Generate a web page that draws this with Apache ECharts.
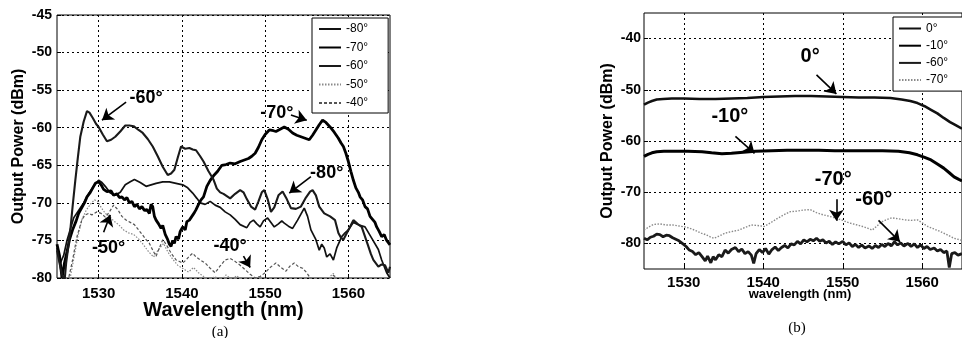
<!DOCTYPE html>
<html><head><meta charset="utf-8">
<script src="https://cdn.jsdelivr.net/npm/echarts@6/dist/echarts.min.js"></script>
<style>html,body{margin:0;padding:0;background:#fff}#c{width:962px;height:338px}</style>
</head><body><div id="c"></div>
<script>
// ---------- tick labels ----------
const xTicks = [1530, 1540, 1550, 1560];
const yTicksB = [-80, -70, -60, -50, -40];

// ---------- panel (a) ----------
const a80Wl = [1525,1525.4,1525.8,1526.2,1526.6,1527,1527.6,1528.2,1528.8,1529.4,1530,1530.4,1530.8,1531.4,1532,1532.6,1533.2,1533.8,1534.3,1535,1535.7,1536.3,1536.9,1537.7,1538.5,1539.3,1540.1,1540.7,1541.3,1541.8,1542.2,1542.8,1543.4,1544,1544.6,1545.2,1545.8,1546.4,1547,1547.8,1548.2,1548.6,1549,1549.4,1549.8,1550.3,1550.7,1551.1,1551.6,1552,1552.3,1552.8,1553.3,1553.9,1554.3,1554.7,1555.1,1555.5,1556.1,1556.5,1556.8,1557.1,1557.4,1557.8,1558.2,1558.6,1559.2,1559.6,1560,1560.6,1561.4,1562,1562.8,1563.6,1564,1564.6,1565];
const a80Db = [-76,-78,-77,-75,-73.5,-72,-71,-70,-68.8,-67.8,-67,-67.3,-67.8,-68.7,-69,-68.6,-67.6,-67.2,-66.9,-67.3,-67.8,-67.6,-67.4,-67.2,-67.2,-67.4,-67.6,-68,-68.7,-69.4,-70,-70.2,-69.8,-70.3,-70.6,-71.2,-71.6,-72.2,-72.9,-73.3,-72.6,-72.3,-72.8,-73.2,-72.4,-72,-72.6,-73.2,-72.8,-72.4,-72.7,-73.1,-73.4,-72.3,-71.5,-70.7,-71.8,-73.6,-74.9,-76.3,-75.5,-76,-77.2,-76.8,-77.6,-76,-74.5,-74,-73.6,-72.6,-73,-73.2,-74.7,-76.2,-77.6,-79.3,-80];

const a70Wl = [1525,1525.3,1525.6,1525.9,1526.2,1526.5,1526.9,1527.3,1527.6,1528,1528.3,1528.6,1529,1529.3,1529.6,1530,1530.3,1530.6,1531,1531.2,1531.5,1531.8,1532.2,1532.5,1532.8,1533.1,1533.4,1533.7,1534,1534.3,1534.6,1534.9,1535.2,1535.5,1535.8,1536.1,1536.3,1536.5,1536.7,1536.9,1537.2,1537.5,1537.7,1538,1538.3,1538.5,1538.7,1538.9,1539.1,1539.3,1539.6,1539.8,1540.1,1540.4,1540.6,1540.9,1541.2,1541.5,1541.7,1542,1542.3,1542.6,1543,1543.4,1543.8,1544.3,1544.8,1545.3,1545.8,1546.4,1547,1547.5,1548,1548.4,1548.8,1549.2,1549.6,1550,1550.5,1551,1551.3,1551.8,1552.3,1552.8,1553.3,1553.8,1554.3,1554.8,1555.3,1555.7,1556.1,1556.5,1556.9,1557.3,1557.8,1558.3,1558.8,1559.1,1559.4,1559.7,1560,1560.3,1560.6,1560.9,1561.2,1561.4,1561.7,1562,1562.3,1562.6,1562.9,1563.2,1563.4,1563.7,1564,1564.3,1564.6,1564.8,1565];
const a70Db = [-75.5,-77,-80,-78,-76.5,-74.9,-73.5,-72.4,-71.4,-70.6,-70,-69.2,-68.6,-68,-67.4,-67.2,-67.6,-68.2,-68.5,-68.7,-68.4,-69,-68.8,-69.3,-69.2,-69.6,-69.3,-70,-69.8,-70.5,-70.2,-70.8,-70.5,-71,-70.9,-71.4,-70.2,-70.5,-71.8,-72.3,-72.8,-73.4,-73,-74.2,-74.9,-75.5,-75.8,-75,-75.4,-74.5,-74.8,-73.8,-73.2,-73.6,-72.5,-72.3,-71.8,-71.3,-70.9,-70.2,-69.6,-69.2,-67.8,-67,-66.4,-65.8,-65,-64.9,-64.7,-64.8,-64.5,-64.3,-64.1,-63.8,-63.4,-62.6,-61.6,-60.9,-60.3,-60.4,-60.5,-60.2,-59.9,-60.2,-60.7,-61,-61.2,-61.4,-61.6,-61,-60.3,-59.6,-59,-59.3,-59.9,-60.6,-61.4,-62,-62.5,-63.4,-64.5,-65.8,-67,-68,-68.6,-69.2,-69.6,-70.5,-70.8,-71.8,-72.2,-72.6,-73.2,-73.8,-74.5,-74.2,-75,-74.9,-75.6];

const a60Wl = [1525,1525.3,1525.6,1525.9,1526.1,1526.4,1526.6,1526.9,1527.2,1527.5,1527.8,1528.2,1528.6,1528.9,1529.3,1529.7,1530,1530.5,1531,1531.5,1532,1532.6,1533.2,1533.7,1534.2,1534.8,1535.3,1535.9,1536.5,1537.1,1537.7,1538.3,1538.7,1539.1,1539.5,1539.9,1540.4,1540.9,1541.3,1541.7,1542.2,1542.6,1543.2,1543.8,1544.2,1544.6,1545,1545.4,1545.8,1546.4,1547,1547.4,1547.8,1548.3,1548.8,1549.2,1549.6,1549.9,1550.3,1550.7,1551.1,1551.6,1552.1,1552.6,1553.1,1553.7,1554.3,1554.9,1555.4,1555.7,1556.1,1556.5,1557.1,1557.8,1558.4,1558.8,1559.1,1559.4,1560,1560.6,1561.1,1561.6,1562,1562.4,1562.7,1563,1563.6,1564,1564.4,1564.8,1565];
const a60Db = [-76.3,-78,-79.5,-80.5,-78,-75.5,-73.6,-70.2,-67,-64,-61.2,-59.2,-57.8,-58,-58.7,-59.5,-59.9,-60.9,-61.8,-61.6,-61.2,-60.5,-59.7,-59.7,-59.8,-60.3,-60.7,-61.5,-62.5,-63.8,-65.2,-66.3,-66.1,-65.6,-64,-62.5,-62.8,-62.7,-62.9,-63,-63.8,-64.5,-65.8,-66.9,-68.1,-68.6,-68.8,-69.1,-69.4,-68.8,-68.3,-68.6,-69.5,-70.5,-70.9,-69.8,-68.6,-68.3,-69.5,-71.2,-70.6,-69,-68.5,-69.5,-70.7,-70.8,-70.5,-69.3,-68.5,-68.3,-69,-70.5,-71.4,-71.8,-72.3,-74,-74.6,-74.9,-73.6,-72.3,-72.8,-73.2,-74.5,-75.8,-76.8,-77.6,-78.5,-78.2,-78.3,-79.3,-78.5];

const a50Wl = [1526.5,1527,1527.5,1528,1528.5,1529,1529.5,1529.9,1530.3,1530.8,1531.3,1531.8,1532.4,1533,1533.6,1534.2,1534.8,1535.4,1536,1536.6,1537.2,1537.8,1538.3,1538.9,1539.5,1540.2,1540.8,1541.4,1542,1542.6,1543.3,1544,1544.6,1545.3,1546,1546.6,1547.3,1548,1548.7,1549.3,1550,1550.7,1551.5,1552.3,1553,1553.8,1554.6,1555.4,1556.2,1557,1557.8,1558.2,1558.6,1559.3,1560,1561,1562,1563,1564,1565];
const a50Db = [-80.5,-77.5,-74.5,-72.2,-71,-70.2,-69.6,-69.8,-70.6,-71.4,-71.8,-72.4,-72.9,-73.6,-74,-74.2,-74.8,-75.6,-76.5,-77.2,-76.2,-75.4,-76.5,-77.5,-78.3,-78.8,-79.2,-78.6,-79.3,-79.8,-80.3,-79.8,-80.5,-79.6,-80.2,-79.7,-80.4,-80.1,-80.6,-79.8,-80.3,-80.8,-80.2,-80.7,-80.3,-80.9,-80.4,-80.8,-80.5,-81,-79.8,-79.4,-80.2,-81,-81.5,-81,-81.5,-81,-81.5,-81];

const a40Wl = [1526.3,1526.8,1527.4,1528,1528.4,1528.8,1529.2,1529.8,1530.3,1530.8,1531.3,1531.8,1532.3,1532.8,1533.3,1533.8,1534.3,1534.8,1535.3,1535.7,1536.1,1536.5,1536.9,1537.3,1537.7,1538.1,1538.5,1538.9,1539.3,1539.7,1540.1,1540.5,1540.9,1541.3,1541.7,1542.2,1542.8,1543.4,1544,1544.6,1545.2,1545.8,1546.4,1547,1547.6,1548.2,1548.8,1549.4,1550,1550.6,1551.3,1551.9,1552.5,1553,1553.5,1554,1554.5,1555,1555.3,1555.8,1556.5,1557.5,1558.2,1558.8,1559.5,1561,1563,1565];
const a40Db = [-80.5,-78,-74.5,-72.2,-71.6,-71.4,-71.6,-71.2,-71.4,-71.9,-71.2,-70.3,-70.9,-71.8,-72.3,-72.6,-72.9,-73.6,-74.3,-74.9,-75.4,-76.3,-77.1,-76,-74.9,-75.5,-76.3,-77,-77.6,-77.8,-78,-77.6,-77.1,-76.7,-77.2,-77.6,-78,-78.7,-79.3,-78.4,-77.6,-77.4,-77.8,-78.3,-78.9,-79.5,-80,-79.8,-79.3,-78.6,-78,-78.6,-79.1,-78.4,-78,-78.5,-78.7,-79.3,-79.8,-80.4,-81,-80.8,-79.6,-80.6,-81.5,-82,-82,-82];

// ---------- panel (b) ----------
const b0Wl = [1525,1525.5,1526,1526.6,1527.4,1528.5,1530,1532,1534,1536,1538,1540,1542,1544,1546,1548,1550,1552,1554,1556,1557.4,1558.5,1559.4,1560.3,1561.1,1561.9,1562.7,1563.5,1564.2,1565];
const b0Db = [-52.9,-52.5,-52.2,-51.9,-51.8,-51.7,-51.7,-51.8,-51.8,-51.7,-51.6,-51.4,-51.3,-51.2,-51.2,-51.3,-51.4,-51.5,-51.5,-51.6,-51.9,-52.2,-52.6,-53.2,-53.9,-54.6,-55.5,-56.3,-56.9,-57.6];

const b10Wl = [1525,1525.5,1526,1526.6,1527.5,1529,1530.5,1532.3,1533.5,1534.8,1536,1537.5,1539,1541,1543,1545,1547,1549,1551,1553,1555,1557,1558.4,1559.4,1560.3,1561.1,1561.9,1562.7,1563.4,1564,1564.6,1565];
const b10Db = [-63,-62.6,-62.3,-62.1,-62,-62,-62,-62.1,-62.3,-62.5,-62.4,-62.2,-62,-61.9,-61.8,-61.8,-61.8,-61.9,-61.9,-61.9,-61.9,-62,-62.3,-62.7,-63.2,-63.7,-64.5,-65.3,-66.2,-67,-67.5,-67.8];

const b60Wl = [1525,1525.4,1525.8,1526.2,1526.6,1527,1527.4,1527.8,1528.2,1528.6,1529,1529.4,1529.9,1530.3,1530.7,1531.1,1531.5,1531.9,1532.3,1532.7,1533,1533.4,1533.7,1534,1534.4,1534.8,1535.2,1535.6,1536,1536.5,1536.9,1537.3,1537.7,1538.1,1538.5,1538.8,1539.1,1539.5,1539.9,1540.3,1540.7,1541.1,1541.5,1541.9,1542.3,1542.7,1543.1,1543.5,1543.9,1544.3,1544.7,1545.1,1545.5,1545.9,1546.3,1546.7,1547.1,1547.5,1547.9,1548.3,1548.7,1549.1,1549.5,1550,1550.4,1550.8,1551.2,1551.6,1552,1552.4,1552.8,1553.3,1553.7,1554.1,1554.5,1554.9,1555.3,1555.7,1556.1,1556.5,1556.9,1557.3,1557.7,1558.2,1558.6,1559,1559.4,1559.8,1560.2,1560.6,1561,1561.5,1561.9,1562.3,1562.7,1563.1,1563.4,1563.7,1564.1,1564.5,1565];
const b60Db = [-79,-79.3,-78.8,-78.6,-78.2,-78.3,-78.7,-78.4,-78.5,-78.9,-79.2,-79.5,-80.1,-80.6,-81.3,-81.6,-82.2,-81.8,-82.6,-83.4,-82.5,-83.8,-82.6,-83.2,-82.2,-82.6,-81.3,-81.9,-81.2,-80.8,-81.6,-81.1,-82,-81.6,-82.3,-83.9,-82,-81.2,-81.8,-81,-82.1,-81.2,-80.7,-81.4,-80.8,-80.4,-80.9,-80.1,-80.3,-79.6,-80.1,-79.3,-79.7,-79.2,-79.5,-79,-79.6,-79.3,-79.9,-79.6,-80.2,-79.7,-80.1,-79.6,-80.3,-79.9,-80.6,-80.2,-80.8,-80.3,-80.9,-80.5,-81,-80.4,-80.8,-80.2,-80.6,-80,-80.5,-79.7,-80.3,-79.9,-80.5,-80,-80.6,-80.1,-80.8,-80.3,-81,-80.6,-81.2,-80.9,-81.5,-81.2,-81.8,-81.5,-84.7,-82,-81.8,-82.3,-82];

const b70Wl = [1525,1525.6,1526.2,1527,1527.8,1528.6,1529.4,1530.2,1530.7,1531.5,1532.2,1532.8,1533.3,1533.8,1534.4,1535.2,1536,1536.9,1537.7,1538.5,1539.3,1540.1,1541,1541.8,1542.6,1543.4,1544.2,1545,1545.9,1546.7,1547.5,1548.3,1549.2,1550,1550.8,1551.6,1552.5,1553.1,1553.7,1554.3,1554.9,1555.6,1556.2,1557,1557.8,1558.6,1559.4,1560.1,1560.7,1561.5,1562.3,1563.1,1564,1565];
const b70Db = [-77.4,-76.8,-76.3,-76.2,-76.4,-76.4,-76.6,-76.8,-77,-77.5,-78,-78.3,-78.7,-79,-78.6,-78,-77.7,-77.4,-76.9,-76.4,-76.5,-76.7,-75.9,-75.1,-74.4,-73.8,-73.7,-73.5,-73.4,-74,-74.4,-74.7,-75.1,-75.5,-76,-76.3,-76.7,-77,-77.4,-76.6,-75.8,-75.3,-75,-75.2,-75.4,-75.5,-75.4,-76.1,-76.7,-77.2,-77.7,-78.3,-79,-79.4];

// ---------- annotations (data coordinates) ----------
const annA = [
  {text:'-60°', at:[1535.7,-56.1], from:[1533.3,-56.6], to:[1530.4,-59.0]},
  {text:'-70°', at:[1551.4,-58.1], from:[1553.1,-58.3], to:[1555.0,-59.0]},
  {text:'-80°', at:[1557.4,-66.0], from:[1555.5,-66.5], to:[1552.9,-68.7]},
  {text:'-50°', at:[1531.2,-76.0], from:[1530.6,-73.9], to:[1531.4,-71.6]},
  {text:'-40°', at:[1545.8,-75.8], from:[1547.4,-77.1], to:[1548.2,-78.6]}
];
const annB = [
  {text:'0°', at:[1545.9,-43.4], from:[1546.7,-47.1], to:[1549.2,-50.8]},
  {text:'-10°', at:[1535.8,-55.2], from:[1536.5,-59.1], to:[1538.9,-62.4]},
  {text:'-70°', at:[1548.8,-67.6], from:[1549.2,-71.4], to:[1549.2,-75.6]},
  {text:'-60°', at:[1553.9,-71.5], from:[1554.5,-75.5], to:[1557.2,-79.7]}
];

const FONT = '"Liberation Sans", Arial, sans-serif';
const zip = (xs, ys) => xs.map((x, i) => [x, ys[i]]);

function mk(name, gi, wl, db, color, width, type) {
  return {
    name: name, type: 'line', xAxisIndex: gi, yAxisIndex: gi,
    data: zip(wl, db), symbol: 'none', smooth: false, clip: true,
    lineStyle: {color: color, width: width, type: type || 'solid'},
    itemStyle: {color: color}, animation: false, z: 3
  };
}
function annotate(series, ann, size) {
  series.markLine = {
    silent: true, animation: false, symbol: ['none', 'arrow'], symbolSize: 11,
    label: {show: false},
    lineStyle: {color: '#000', width: 1.6, type: 'solid'},
    itemStyle: {color: '#000'},
    data: ann.map(a => [{coord: a.from}, {coord: a.to}])
  };
  series.markPoint = {
    silent: true, animation: false, symbol: 'circle', symbolSize: 1,
    itemStyle: {color: 'rgba(0,0,0,0)'},
    label: {show: true, position: 'inside', formatter: '{b}', color: '#000',
            fontFamily: FONT, fontWeight: 'bold', fontSize: size},
    data: ann.map(a => ({name: a.text, coord: a.at}))
  };
  return series;
}

const sA80 = mk('a-80°', 0, a80Wl, a80Db, '#111', 1.7);
const sA70 = annotate(mk('a-70°', 0, a70Wl, a70Db, '#000', 2.8), annA, 18);
const sA60 = mk('a-60°', 0, a60Wl, a60Db, '#1a1a1a', 2.1);
const sA50 = mk('a-50°', 0, a50Wl, a50Db, '#8a8a8a', 1.2, [1.5, 1.5]);
const sA40 = mk('a-40°', 0, a40Wl, a40Db, '#555', 1.2, [3, 2]);
const sB0 = annotate(mk('b0°', 1, b0Wl, b0Db, '#111', 2.6), annB, 20);
const sB10 = mk('b-10°', 1, b10Wl, b10Db, '#000', 3);
const sB60 = mk('b-60°', 1, b60Wl, b60Db, '#1a1a1a', 2.8);
const sB70 = mk('b-70°', 1, b70Wl, b70Db, '#8a8a8a', 1.4, [1.5, 1.5]);

const tickLabel = (size, margin, custom) => ({
  customValues: custom, fontFamily: FONT, fontWeight: 'bold', fontSize: size, color: '#000', margin: margin,
  formatter: v => String(v)
});
const gridDots = {show: true, lineStyle: {color: '#000', width: 1, type: [2, 3]}};
const legendCommon = {
  orient: 'vertical', backgroundColor: '#fff', borderColor: '#000', borderWidth: 1,
  itemWidth: 22, itemHeight: 10,
  itemStyle: {opacity: 0, color: 'rgba(0,0,0,0)', borderWidth: 0},
  textStyle: {fontFamily: FONT, fontSize: 12, color: '#000'},
  formatter: n => n.slice(1), selectedMode: false
};

const option = {
  animation: false,
  backgroundColor: '#fff',
  grid: [
    {left: 57, top: 15, width: 333, height: 263, show: true, borderColor: '#000', borderWidth: 1},
    {left: 644, top: 13, width: 325, height: 256, show: true, borderColor: '#000', borderWidth: 1}
  ],
  xAxis: [
    {gridIndex: 0, type: 'value', min: 1525, max: 1565,
     name: 'Wavelength (nm)', nameLocation: 'middle', nameGap: 22, nameMoveOverlap: false,
     nameTextStyle: {fontFamily: FONT, fontWeight: 'bold', fontSize: 20, color: '#000'},
     axisLine: {show: false},
     axisTick: {show: true, inside: true, length: 4, customValues: xTicks, lineStyle: {color: '#000'}},
     axisLabel: tickLabel(15, 8, xTicks), splitLine: gridDots},
    {gridIndex: 1, type: 'value', min: 1525, max: 1565,
     name: 'wavelength (nm)', nameLocation: 'middle', nameGap: 19, nameMoveOverlap: false,
     nameTextStyle: {fontFamily: FONT, fontWeight: 'bold', fontSize: 13, color: '#000', padding: [0, 6, 0, 0]},
     axisLine: {show: false},
     axisTick: {show: true, inside: true, length: 4, customValues: xTicks, lineStyle: {color: '#000'}},
     axisLabel: tickLabel(15, 6, xTicks), splitLine: gridDots}
  ],
  yAxis: [
    {gridIndex: 0, type: 'value', min: -80, max: -45, interval: 5,
     name: 'Output Power (dBm)', nameLocation: 'middle', nameGap: 30,
     nameTextStyle: {fontFamily: FONT, fontWeight: 'bold', fontSize: 16, color: '#000'},
     axisLine: {show: false},
     axisTick: {show: true, inside: true, length: 4, lineStyle: {color: '#000'}},
     axisLabel: tickLabel(14, 5), splitLine: gridDots},
    {gridIndex: 1, type: 'value', min: -85, max: -35,
     name: 'Output Power (dBm)', nameLocation: 'middle', nameGap: 28,
     nameTextStyle: {fontFamily: FONT, fontWeight: 'bold', fontSize: 16, color: '#000'},
     axisLine: {show: false},
     axisTick: {show: true, inside: true, length: 4, customValues: yTicksB, lineStyle: {color: '#000'}},
     axisLabel: tickLabel(14, 3, yTicksB), splitLine: gridDots}
  ],
  legend: [
    Object.assign({}, legendCommon, {left: 312, top: 18, itemGap: 6.5, padding: [5, 20, 4, 6],
      data: ['a-80°', 'a-70°', 'a-60°', 'a-50°', 'a-40°']}),
    Object.assign({}, legendCommon, {left: 893, top: 17, itemGap: 5.2, padding: [5.5, 20, 5, 5],
      data: ['b0°', 'b-10°', 'b-60°', 'b-70°']})
  ],
  graphic: [
    {type: 'text', x: 220, y: 332, style: {text: '(a)', font: '15px "Liberation Serif", "Times New Roman", serif', fill: '#000', align: 'center', verticalAlign: 'middle'}},
    {type: 'text', x: 797, y: 328, style: {text: '(b)', font: '15px "Liberation Serif", "Times New Roman", serif', fill: '#000', align: 'center', verticalAlign: 'middle'}}
  ],
  series: [sA80, sA70, sA60, sA50, sA40, sB0, sB10, sB60, sB70]
};

const chart = echarts.init(document.getElementById('c'), null, {renderer: 'canvas'});
chart.setOption(option);
</script></body></html>
